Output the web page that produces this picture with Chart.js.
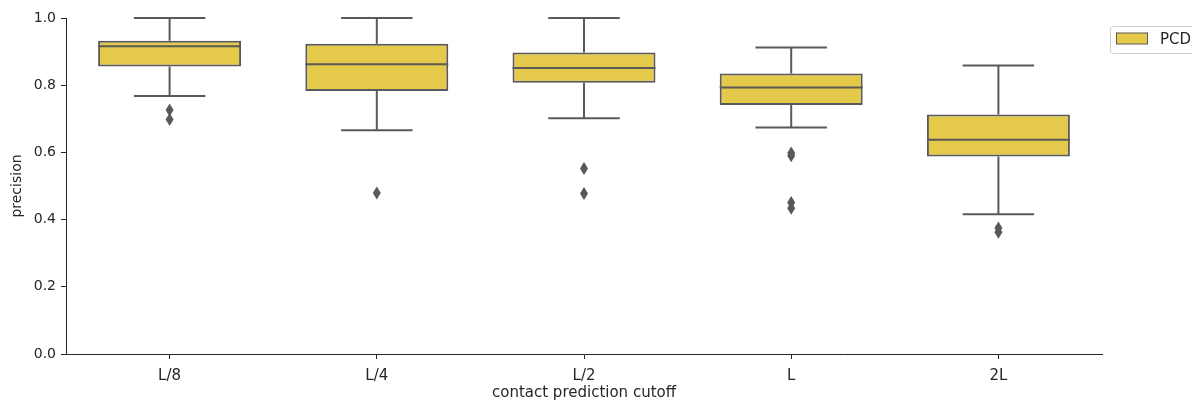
<!DOCTYPE html>
<html>
<head>
<meta charset="utf-8">
<script src="https://cdn.jsdelivr.net/npm/chart.js@4.4.1/dist/chart.umd.min.js"></script>
<style>
  html, body { margin: 0; padding: 0; background: #ffffff; }
  canvas { display: block; }
</style>
</head>
<body>
<canvas id="chart" width="1192" height="401"></canvas>
<script>
// Precision distribution per contact prediction cutoff
const categories  = ['L/8', 'L/4', 'L/2', 'L', '2L'];
const whiskerLow  = [0.768, 0.666, 0.702, 0.674, 0.416];
const quartile1   = [0.856, 0.783, 0.807, 0.741, 0.588];
const medians     = [0.916, 0.862, 0.851, 0.793, 0.638];
const quartile3   = [0.932, 0.923, 0.897, 0.835, 0.713];
const whiskerHigh = [1.000, 1.000, 1.000, 0.912, 0.859];
const outliers    = [[0.726, 0.698], [0.479], [0.552, 0.478], [0.598, 0.590, 0.451, 0.434], [0.375, 0.362]];
const seriesName  = 'PCD';
const yTickValues = [0.0, 0.2, 0.4, 0.6, 0.8, 1.0];

const FILL = '#e4c94a';
const LINE = '#595959';
const AXIS = '#262626';
const FONT = "'DejaVu Sans', sans-serif";

// Whiskers, caps, medians and flier diamonds on top of the floating-bar boxes
const boxParts = {
  id: 'boxParts',
  afterDatasetsDraw(chart) {
    const ctx = chart.ctx;
    const y = chart.scales.y;
    const meta = chart.getDatasetMeta(0);
    ctx.save();
    ctx.strokeStyle = LINE;
    ctx.lineWidth = 2;
    ctx.lineCap = 'butt';
    meta.data.forEach((bar, i) => {
      const { x, width } = bar.getProps(['x', 'width'], true);
      const half = width / 2;
      const capHalf = width / 4;
      const pMed = y.getPixelForValue(medians[i]);
      const pQ1 = y.getPixelForValue(quartile1[i]);
      const pQ3 = y.getPixelForValue(quartile3[i]);
      const pLo = y.getPixelForValue(whiskerLow[i]);
      const pHi = y.getPixelForValue(whiskerHigh[i]);
      ctx.beginPath();
      // median
      ctx.moveTo(x - half, pMed); ctx.lineTo(x + half, pMed);
      // upper whisker and cap
      ctx.moveTo(x, pQ3); ctx.lineTo(x, pHi);
      ctx.moveTo(x - capHalf, pHi); ctx.lineTo(x + capHalf, pHi);
      // lower whisker and cap
      ctx.moveTo(x, pQ1); ctx.lineTo(x, pLo);
      ctx.moveTo(x - capHalf, pLo); ctx.lineTo(x + capHalf, pLo);
      ctx.stroke();
      // fliers as thin diamonds
      ctx.fillStyle = LINE;
      outliers[i].forEach(v => {
        const py = y.getPixelForValue(v);
        ctx.beginPath();
        ctx.moveTo(x, py - 6.5);
        ctx.lineTo(x + 4, py);
        ctx.lineTo(x, py + 6.5);
        ctx.lineTo(x - 4, py);
        ctx.closePath();
        ctx.fill();
      });
    });
    ctx.restore();
  }
};

// Legend box sitting to the right of the plot
const sideLegend = {
  id: 'sideLegend',
  afterDraw(chart) {
    const ctx = chart.ctx;
    const area = chart.chartArea;
    const x0 = area.right + 8.5;
    const y0 = area.top + 8.5;
    ctx.save();
    ctx.beginPath();
    if (ctx.roundRect) ctx.roundRect(x0, y0, 100, 27, 3); else ctx.rect(x0, y0, 100, 27);
    ctx.fillStyle = 'rgba(255,255,255,0.8)';
    ctx.fill();
    ctx.strokeStyle = '#cccccc';
    ctx.lineWidth = 1;
    ctx.stroke();
    ctx.fillStyle = FILL;
    ctx.fillRect(x0 + 6, y0 + 6.5, 31, 11);
    ctx.strokeStyle = LINE;
    ctx.strokeRect(x0 + 6, y0 + 6.5, 31, 11);
    ctx.fillStyle = AXIS;
    ctx.font = '15px ' + FONT;
    ctx.textBaseline = 'middle';
    ctx.textAlign = 'left';
    ctx.fillText(seriesName, x0 + 49.5, y0 + 13.5);
    ctx.restore();
  }
};

new Chart(document.getElementById('chart'), {
  type: 'bar',
  data: {
    labels: categories,
    datasets: [{
      label: seriesName,
      data: categories.map((_, i) => [quartile1[i], quartile3[i]]),
      backgroundColor: FILL,
      borderColor: LINE,
      borderWidth: 2,
      borderSkipped: false,
      barPercentage: 0.69,
      categoryPercentage: 1.0
    }]
  },
  options: {
    responsive: false,
    animation: false,
    events: [],
    layout: { padding: { top: 18, right: 90, bottom: 0, left: 0 } },
    plugins: {
      legend: { display: false },
      tooltip: { enabled: false },
      title: { display: false }
    },
    scales: {
      x: {
        type: 'category',
        offset: true,
        grid: { display: true, drawOnChartArea: false, offset: false, drawTicks: true, tickLength: 5, color: AXIS, lineWidth: 1 },
        border: { display: true, color: AXIS, width: 1 },
        ticks: { color: AXIS, font: { family: FONT, size: 15 }, padding: 8, maxRotation: 0 },
        title: { display: true, text: 'contact prediction cutoff', color: AXIS, font: { family: FONT, size: 15 }, padding: { top: 0, bottom: -1 } },
        afterFit(scale) { scale.height = 47; }
      },
      y: {
        type: 'linear',
        min: 0,
        max: 1,
        afterBuildTicks(scale) { scale.ticks = yTickValues.map(v => ({ value: v })); },
        grid: { display: true, drawOnChartArea: false, drawTicks: true, tickLength: 5, color: AXIS, lineWidth: 1 },
        border: { display: true, color: AXIS, width: 1 },
        ticks: { color: AXIS, font: { family: FONT, size: 14 }, padding: 5, callback: v => Number(v).toFixed(1) },
        title: { display: true, text: 'precision', color: AXIS, font: { family: FONT, size: 14 }, padding: { top: 8.5, bottom: 0 } },
        afterFit(scale) { scale.width = 66; }
      }
    }
  },
  plugins: [boxParts, sideLegend]
});
</script>
</body>
</html>
